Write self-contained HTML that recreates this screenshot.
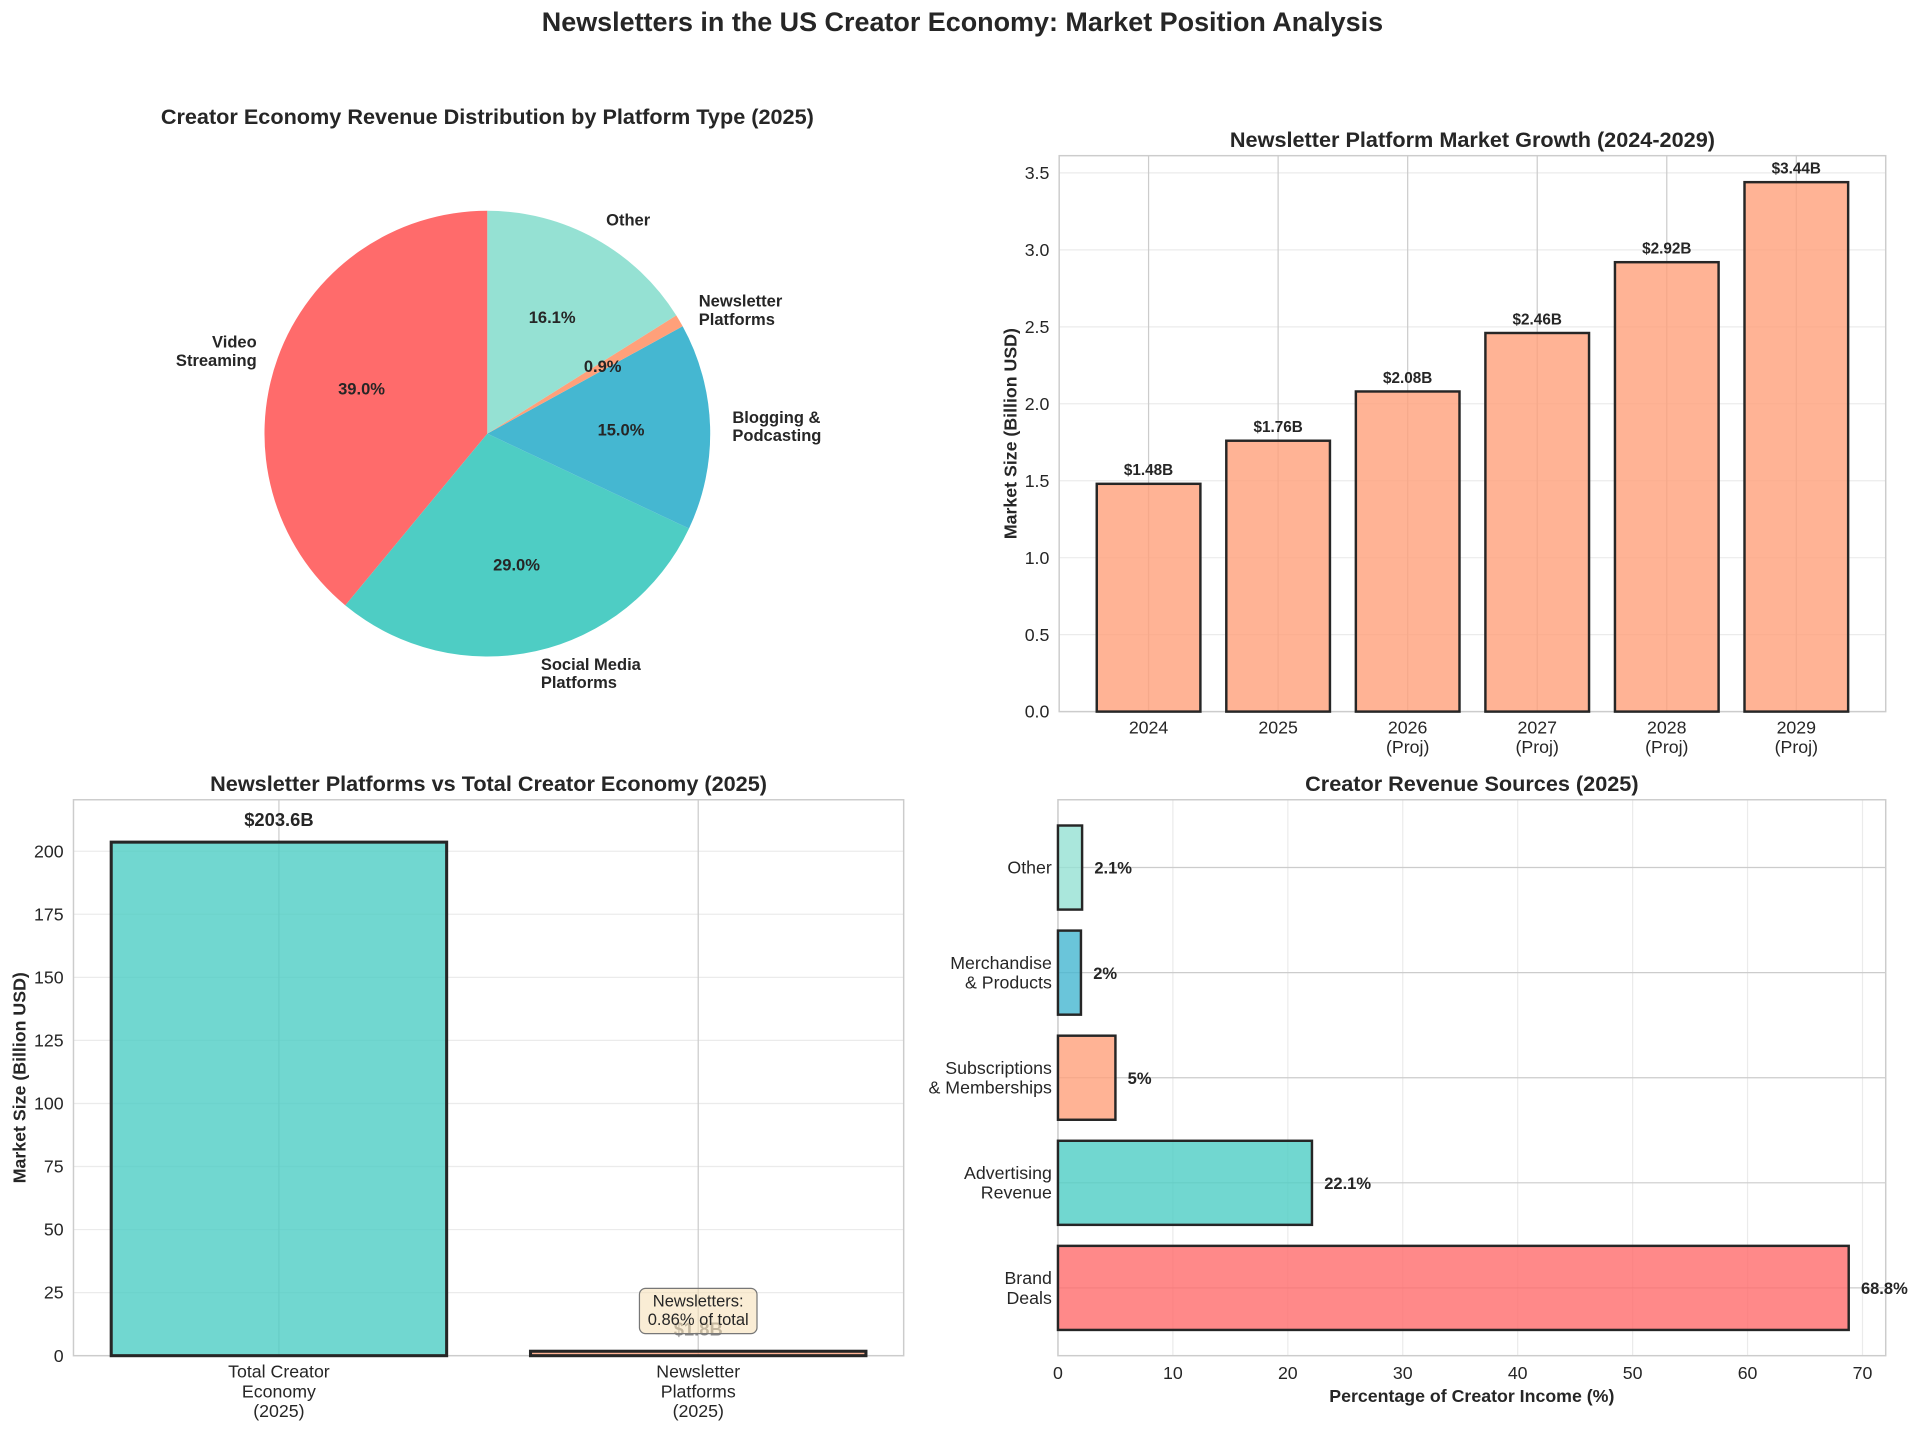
<!DOCTYPE html>
<html><head><meta charset="utf-8"><style>
html,body{margin:0;padding:0;background:#fff}
svg{display:block;font-family:"Liberation Sans",sans-serif}
</style></head><body>
<svg id="fig" width="1920" height="1433" viewBox="0 0 1568 1170" xmlns="http://www.w3.org/2000/svg">
<text x="786" y="25" text-anchor="middle" font-size="22" font-weight="bold" fill="#262626">Newsletters in the US Creator Economy: Market Position Analysis</text>
<g id="pie"></g>
<g id="growth"></g>
<g id="compare"></g>
<g id="sources"></g>
</svg>
<script>
const pieLabels=[["Video","Streaming"],["Social Media","Platforms"],["Blogging &","Podcasting"],["Newsletter","Platforms"],["Other"]];
const pieValues=[39.0,29.0,15.0,0.9,16.1];
const pieColors=["#FF6B6B","#4ECDC4","#45B7D1","#FFA07A","#95E1D3"];

const growthYears=[["2024"],["2025"],["2026","(Proj)"],["2027","(Proj)"],["2028","(Proj)"],["2029","(Proj)"]];
const growthValues=[1.48,1.76,2.08,2.46,2.92,3.44];
const growthTicks=[0,0.5,1.0,1.5,2.0,2.5,3.0,3.5];

const compareCats=[["Total Creator","Economy","(2025)"],["Newsletter","Platforms","(2025)"]];
const compareValues=[203.6,1.76];
const compareTicks=[0,25,50,75,100,125,150,175,200];

const sourceCats=[["Brand","Deals"],["Advertising","Revenue"],["Subscriptions","& Memberships"],["Merchandise","& Products"],["Other"]];
const sourceValues=[68.8,22.1,5,2,2.1];
const sourceLabels=["68.8%","22.1%","5%","2%","2.1%"];
const sourceColors=["#FF6B6B","#4ECDC4","#FFA07A","#45B7D1","#95E1D3"];
const sourceTicks=[0,10,20,30,40,50,60,70];

const NS="http://www.w3.org/2000/svg";
const TF=17.7, TK=14.5;
function mk(parent,tag,attrs,text){const e=document.createElementNS(NS,tag);for(const k in attrs)e.setAttribute(k,attrs[k]);if(text!==undefined)e.textContent=text;parent.appendChild(e);return e;}
function lines(parent,x,y,arr,attrs,lh){const t=mk(parent,'text',Object.assign({x:x,y:y},attrs));arr.forEach((s,i)=>{mk(t,'tspan',{x:x,dy:i?lh:0},s);});return t;}

// PIE
(function(){
const g=document.getElementById('pie');
const cx=398,cy=354,r=182;
const title=mk(g,'text',{x:398,y:101,'text-anchor':'middle','font-size':TF,'font-weight':'bold',fill:'#262626'},'Creator Economy Revenue Distribution by Platform Type (2025)');


const tot=pieValues.reduce((a,b)=>a+b,0);
let a=90;
const texts=[];
pieValues.forEach((v,i)=>{
 const sw=v/tot*360, a0=a*Math.PI/180, a1=(a+sw)*Math.PI/180;
 const x0=cx+r*Math.cos(a0),y0=cy-r*Math.sin(a0),x1=cx+r*Math.cos(a1),y1=cy-r*Math.sin(a1);
 const p=mk(g,'path',{d:`M${cx},${cy} L${x0},${y0} A${r},${r} 0 ${sw>180?1:0} 0 ${x1},${y1} Z`,fill:pieColors[i]});
 
 
 texts.push([(a+sw/2)*Math.PI/180,v,i]);
 a+=sw;
});
texts.forEach(([m,v,i])=>{
 const c=Math.cos(m), s=Math.sin(m);
 const lx=cx+1.1*r*c, ly=cy-1.1*r*s;
 const n=pieLabels[i].length;
 const lt=lines(g,lx,ly-(n-1)*7.5+5,pieLabels[i],{'text-anchor':c>0?'start':'end','font-size':13.5,'font-weight':'bold',fill:'#262626'},15);
 
 
 const pt=mk(g,'text',{x:cx+0.6*r*c,y:cy-0.6*r*s+5,'text-anchor':'middle','font-size':13.5,'font-weight':'bold',fill:'#262626'},v.toFixed(1)+'%');
 
 
});
})();

// GROWTH
(function(){
const g=document.getElementById('growth');
const L=865,R=1540,T=127,B=581,ymax=3.612,xmin=-0.69,xmax=5.69;
const X=v=>L+(v-xmin)/(xmax-xmin)*(R-L), Y=v=>B-v/ymax*(B-T);
const t=mk(g,'text',{x:(L+R)/2,y:120,'text-anchor':'middle','font-size':TF,'font-weight':'bold',fill:'#262626'},'Newsletter Platform Market Growth (2024-2029)');


growthTicks.forEach(v=>{
 mk(g,'line',{x1:L,x2:R,y1:Y(v),y2:Y(v),stroke:'#ebebeb','stroke-width':1});
 const tk=mk(g,'text',{x:L-8,y:Y(v)+5,'text-anchor':'end','font-size':TK,fill:'#262626'},v.toFixed(1));
 
 
});
growthValues.forEach((v,i)=>{mk(g,'line',{x1:X(i),x2:X(i),y1:T,y2:B,stroke:'#cccccc','stroke-width':1});});
mk(g,'rect',{x:L,y:T,width:R-L,height:B-T,fill:'none',stroke:'#cccccc','stroke-width':1.2});
growthValues.forEach((v,i)=>{
 const b=mk(g,'rect',{x:X(i-0.4),y:Y(v),width:X(0.4)-X(-0.4),height:Y(0)-Y(v),fill:'#FFA07A','fill-opacity':0.8,stroke:'#262626','stroke-width':2});
 
 
 const vl=mk(g,'text',{x:X(i),y:Y(v)-7,'text-anchor':'middle','font-size':12.5,'font-weight':'bold',fill:'#262626'},'$'+v.toFixed(2)+'B');
 
 
 const xl=lines(g,X(i),B+18,growthYears[i],{'text-anchor':'middle','font-size':TK,fill:'#262626'},16);
 
 
});
const yl=mk(g,'text',{x:0,y:0,transform:`translate(830,${(T+B)/2}) rotate(-90)`,'text-anchor':'middle','font-size':14.5,'font-weight':'bold',fill:'#262626'},'Market Size (Billion USD)');


})();

// COMPARE
(function(){
const g=document.getElementById('compare');
const L=60,R=738,T=653,B=1107,ymax=220.4,xmin=-0.49,xmax=1.49;
const X=v=>L+(v-xmin)/(xmax-xmin)*(R-L), Y=v=>B-v/ymax*(B-T);
const t=mk(g,'text',{x:(L+R)/2,y:646,'text-anchor':'middle','font-size':TF,'font-weight':'bold',fill:'#262626'},'Newsletter Platforms vs Total Creator Economy (2025)');


compareTicks.forEach(v=>{
 mk(g,'line',{x1:L,x2:R,y1:Y(v),y2:Y(v),stroke:'#ebebeb','stroke-width':1});
 const tk=mk(g,'text',{x:L-8,y:Y(v)+5,'text-anchor':'end','font-size':TK,fill:'#262626'},String(v));
 
 
});
compareValues.forEach((v,i)=>{mk(g,'line',{x1:X(i),x2:X(i),y1:T,y2:B,stroke:'#cccccc','stroke-width':1});});
mk(g,'rect',{x:L,y:T,width:R-L,height:B-T,fill:'none',stroke:'#cccccc','stroke-width':1.2});
const cols=['#4ECDC4','#FFA07A'];
compareValues.forEach((v,i)=>{
 const b=mk(g,'rect',{x:X(i-0.4),y:Y(v),width:X(0.4)-X(-0.4),height:Y(0)-Y(v),fill:cols[i],'fill-opacity':0.8,stroke:'#262626','stroke-width':2.5});
 
 
 const vl=mk(g,'text',{x:X(i),y:Y(v)-13,'text-anchor':'middle','font-size':15,'font-weight':'bold',fill:i?'#888':'#262626'},'$'+v.toFixed(1)+'B');
 
 
 const xl=lines(g,X(i),B+18,compareCats[i],{'text-anchor':'middle','font-size':TK,fill:'#262626'},16);
 
 
});
const bx=mk(g,'rect',{x:X(1)-48,y:1052,width:96,height:37,rx:5,fill:'#f5deb3','fill-opacity':0.55,stroke:'#777','stroke-width':1});


const an=lines(g,X(1),1067,['Newsletters:',(compareValues[1]/compareValues[0]*100).toFixed(2)+'% of total'],{'text-anchor':'middle','font-size':13.5,fill:'#262626'},15);


const yl=mk(g,'text',{x:0,y:0,transform:`translate(21,${(T+B)/2}) rotate(-90)`,'text-anchor':'middle','font-size':14.5,'font-weight':'bold',fill:'#262626'},'Market Size (Billion USD)');


})();

// SOURCES
(function(){
const g=document.getElementById('sources');
const L=864,R=1540,T=653,B=1107,xmax=72.02,ymin=-0.645,ymax=4.645;
const X=v=>L+v/xmax*(R-L), Y=v=>B-(v-ymin)/(ymax-ymin)*(B-T);
const t=mk(g,'text',{x:(L+R)/2,y:646,'text-anchor':'middle','font-size':TF,'font-weight':'bold',fill:'#262626'},'Creator Revenue Sources (2025)');


sourceTicks.forEach(v=>{
 mk(g,'line',{x1:X(v),x2:X(v),y1:T,y2:B,stroke:'#ebebeb','stroke-width':1});
 const tk=mk(g,'text',{x:X(v),y:B+19,'text-anchor':'middle','font-size':TK,fill:'#262626'},String(v));
 
 
});
sourceValues.forEach((v,i)=>{mk(g,'line',{x1:L,x2:R,y1:Y(i),y2:Y(i),stroke:'#cccccc','stroke-width':1});});
mk(g,'rect',{x:L,y:T,width:R-L,height:B-T,fill:'none',stroke:'#cccccc','stroke-width':1.2});
sourceValues.forEach((v,i)=>{
 const b=mk(g,'rect',{x:X(0),y:Y(i+0.4),width:X(v)-X(0),height:Y(-0.4)-Y(0.4),fill:sourceColors[i],'fill-opacity':0.8,stroke:'#262626','stroke-width':2});
 
 
 const vl=mk(g,'text',{x:X(v)+10,y:Y(i)+5,'font-size':13.5,'font-weight':'bold',fill:'#262626'},sourceLabels[i]);
 
 
 const n=sourceCats[i].length;
 const yl=lines(g,L-5,Y(i)-(n-1)*8+5,sourceCats[i],{'text-anchor':'end','font-size':TK,fill:'#262626'},16);
 
 
});
const xl=mk(g,'text',{x:(L+R)/2,y:1145,'text-anchor':'middle','font-size':14.5,'font-weight':'bold',fill:'#262626'},'Percentage of Creator Income (%)');


})();
</script>
</body></html>
